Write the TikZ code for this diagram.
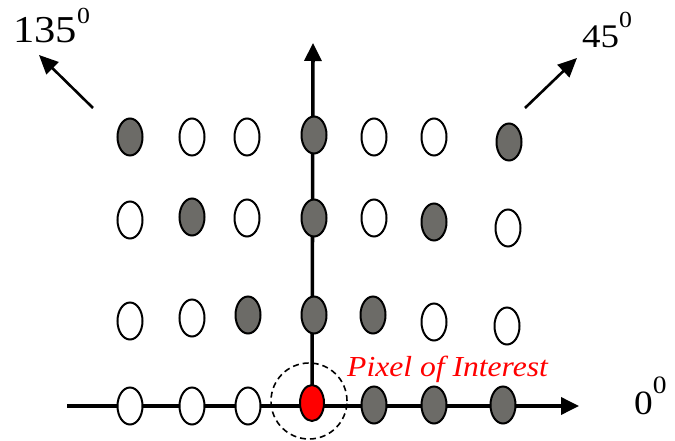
\documentclass[tikz,border=0pt]{standalone}
\usepackage{fontspec}
\setmainfont{Liberation Serif}
\usetikzlibrary{shapes.geometric,arrows.meta,backgrounds}
\definecolor{dotgray}{RGB}{108,107,103}
\begin{document}
\begin{tikzpicture}[x=1pt,y=-1pt,
  dot/.style={ellipse, draw=black, line width=2pt, minimum width=25pt, minimum height=37pt, inner sep=0pt},
  wdot/.style={dot, fill=white},
  ddot/.style={dot, fill=dotgray},
  rdot/.style={dot, fill=red, minimum width=24pt, minimum height=36pt},
  axisline/.style={line width=3.6pt, -{Triangle[length=18pt,width=17pt]}},
  diagline/.style={line width=2.6pt, -{Triangle[length=19pt,width=17pt]}},
  lbl/.style={anchor=base west, inner sep=0pt},
  roi/.style={circle, draw=black, line width=1.6pt, dash pattern=on 6pt off 4pt, minimum size=76pt, inner sep=0pt}]
\useasboundingbox (0,0) rectangle (675,441);
% row 1
\node[ddot] (a1) at (130,137) {};
\node[wdot] (a2) at (192,137) {};
\node[wdot] (a3) at (247,137) {};
\node[ddot] (a4) at (314,135) {};
\node[wdot] (a5) at (374,137) {};
\node[wdot] (a6) at (434,137) {};
\node[ddot] (a7) at (509,142) {};
% row 2
\node[wdot] (b1) at (130,220) {};
\node[ddot] (b2) at (192,217) {};
\node[wdot] (b3) at (247,218) {};
\node[ddot] (b4) at (314,218) {};
\node[wdot] (b5) at (374,218) {};
\node[ddot] (b6) at (434,222) {};
\node[wdot] (b7) at (508,228) {};
% row 3
\node[wdot] (c1) at (130,321) {};
\node[wdot] (c2) at (192,318) {};
\node[ddot] (c3) at (248,315) {};
\node[ddot] (c4) at (314,315) {};
\node[ddot] (c5) at (373,315) {};
\node[wdot] (c6) at (434,322) {};
\node[wdot] (c7) at (507,326) {};
% row 4
\node[wdot] (d1) at (130,406) {};
\node[wdot] (d2) at (192,406) {};
\node[wdot] (d3) at (248,406) {};
\node[rdot] (poi) at (312,403) {};
\node[ddot] (d5) at (374,405) {};
\node[ddot] (d6) at (434,405) {};
\node[ddot] (d7) at (503,405) {};
% region of interest
\node[roi] (roi) at (309,401) {};
% axes
\coordinate (hstart) at (67,406);
\coordinate (hend) at (579,406);
\coordinate (vtop) at (313,43);
\begin{scope}[on background layer]
  \draw[axisline] (hstart) -- (hend);
  \draw[axisline] (poi.center) -- (vtop);
\end{scope}
% diagonal arrows
\coordinate (t135) at (93,108);
\coordinate (h135) at (39,55);
\coordinate (t45) at (525,108);
\coordinate (h45) at (577,58);
\draw[diagline] (t135) -- (h135);
\draw[diagline] (t45) -- (h45);
% labels
\node[lbl] (l135) at (13,43) {\scalebox{1.12}[1]{\fontsize{38}{42}\selectfont 135\raisebox{0.5em}{\fontsize{23}{25}\selectfont 0}}};
\node[lbl] (l45) at (582,48) {\scalebox{1.12}[1]{\fontsize{33}{36}\selectfont 45\raisebox{0.62em}{\fontsize{23}{25}\selectfont 0}}};
\node[lbl] (l0) at (634,414) {\scalebox{1.1}[1]{\fontsize{34}{37}\selectfont 0\raisebox{0.6em}{\fontsize{25}{27}\selectfont 0}}};
\node[lbl, text=red] (lpoi) at (347,376) {\scalebox{1.09}[1]{\fontsize{29}{32}\selectfont\itshape Pixel of Interest}};
\end{tikzpicture}
\end{document}
